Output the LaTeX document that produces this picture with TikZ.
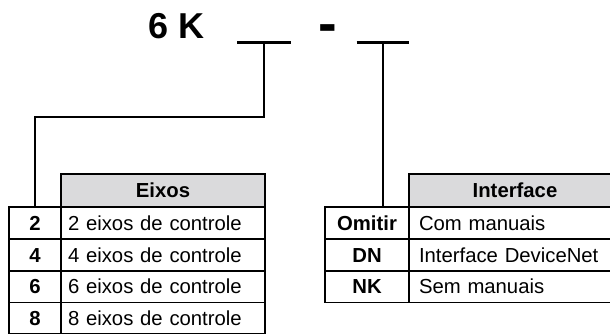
\documentclass[tikz,border=0pt]{standalone}
\usepackage{fontspec}
\setmainfont{Liberation Sans}
\definecolor{headgray}{RGB}{218,218,220}
\tikzset{
  x=1pt, y=-1pt,
  cell/.style={draw, line width=1.8pt, inner sep=0pt, outer sep=0pt, anchor=north west,
    font=\fontsize{20.3}{24}\selectfont, text height=14.5pt, text depth=0pt},
  codecell/.style={cell, font=\fontsize{20.3}{24}\selectfont\bfseries, minimum height=31.7pt},
  headcell/.style={cell, fill=headgray, font=\fontsize{20.3}{24}\selectfont\bfseries, minimum height=33.3pt},
  desccell/.style={cell, align=left, minimum height=31.7pt},
  blank/.style={inner sep=0pt, outer sep=0pt, minimum height=0pt},
  uline/.style={line width=3pt},
  conn/.style={line width=2.3pt},
  titlefont/.style={font=\fontsize{36}{40}\selectfont\bfseries, inner sep=0pt}
}
\begin{document}
\begin{tikzpicture}
\useasboundingbox (0,0) rectangle (610,333);
\clip (0,0) rectangle (610,333);
% title
\node[titlefont, anchor=base] (t) at (177,38.3) {6 K};
\node[font=\fontsize{56}{60}\selectfont\bfseries, inner sep=0pt, anchor=base] (d) at (328,42.3) {-};
\node[blank, minimum width=53.4pt] (b1) at (264,42.3) {};
\node[blank, minimum width=52.3pt] (b2) at (382.8,42.3) {};
\draw[uline] (b1.west) -- (b1.east);
\draw[uline] (b2.west) -- (b2.east);
% left table
\node[headcell, minimum width=204pt] (h1) at (61,174) {Eixos};
\node[codecell, minimum width=52pt] (c2) at (9,207.3) {2};
\node[codecell, minimum width=52pt] (c4) at (9,239.0) {4};
\node[codecell, minimum width=52pt] (c6) at (9,270.7) {6};
\node[codecell, minimum width=52pt] (c8) at (9,302.4) {8};
\node[desccell, minimum width=204pt, inner xsep=7pt, text width=190pt] (e2) at (61,207.3) {2 eixos de controle};
\node[desccell, minimum width=204pt, inner xsep=7pt, text width=190pt] (e4) at (61,239.0) {4 eixos de controle};
\node[desccell, minimum width=204pt, inner xsep=7pt, text width=190pt] (e6) at (61,270.7) {6 eixos de controle};
\node[desccell, minimum width=204pt, inner xsep=7pt, text width=190pt] (e8) at (61,302.4) {8 eixos de controle};
% right table
\node[headcell, minimum width=231pt, text width=231pt, align=center] (h2) at (409,174) {\hspace*{-19pt}Interface};
\node[codecell, minimum width=84pt] (o1) at (325,207.3) {Omitir};
\node[codecell, minimum width=84pt] (o2) at (325,239.0) {DN};
\node[codecell, minimum width=84pt] (o3) at (325,270.7) {NK};
\node[desccell, minimum width=231pt, inner xsep=10pt, text width=211pt] (i1) at (409,207.3) {Com manuais};
\node[desccell, minimum width=231pt, inner xsep=10pt, text width=211pt] (i2) at (409,239.0) {Interface DeviceNet};
\node[desccell, minimum width=231pt, inner xsep=10pt, text width=211pt] (i3) at (409,270.7) {Sem manuais};
% connectors
\coordinate (k1) at (35,116.7);
\draw[conn] (b1.center) |- (k1) -- (c2.north);
\draw[conn] (b2.center) -- (b2.center |- o1.north);
\end{tikzpicture}
\end{document}
